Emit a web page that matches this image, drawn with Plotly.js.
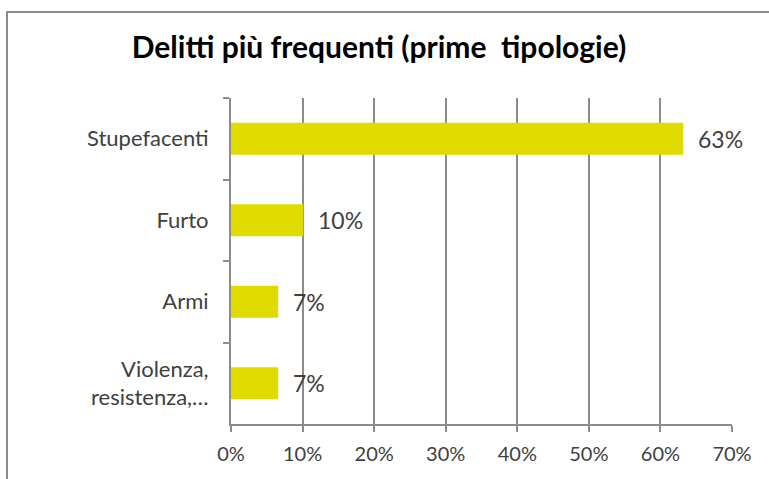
<!DOCTYPE html>
<html><head><meta charset="utf-8">
<script src="https://cdn.plot.ly/plotly-3.0.1.min.js"></script>
<style>
html,body{margin:0;padding:0;background:#fff;}
#wrap{position:relative;width:769px;height:479px;overflow:hidden;}
#chart{position:absolute;left:0;top:0;width:769px;height:479px;}
#frame{position:absolute;left:6px;top:11px;width:800px;height:500px;border:2px solid #8c8c8c;box-sizing:border-box;pointer-events:none;}
</style></head>
<body><div id="wrap"><div id="chart"></div><div id="frame"></div></div>
<script>
const categories = ["Stupefacenti", "Furto", "Armi", "Violenza,<br>resistenza,…"];
const values = [0.632, 0.101, 0.066, 0.066];
const dataLabels = ["63%", "10%", "7%", "7%"];
const tickVals = [0, 0.1, 0.2, 0.3, 0.4, 0.5, 0.6, 0.7];

const font = "Lato, 'Open Sans', sans-serif";
const trace = {
  type: "bar", orientation: "h",
  x: values, y: categories,
  marker: {color: "#e0dc00"},
  width: 0.39,
  hoverinfo: "skip"
};
const annotations = values.map((v, i) => ({
  x: v, y: categories[i], xref: "x", yref: "y",
  text: dataLabels[i],
  showarrow: false, xanchor: "left", xshift: 13,
  font: {family: font, size: 23, color: "#404040"}
}));
const layout = {
  width: 769, height: 479,
  margin: {l: 231, r: 37, t: 98, b: 55},
  paper_bgcolor: "#fff", plot_bgcolor: "#fff",
  showlegend: false,
  title: {text: "<b>Delitti più frequenti (prime  tipologie)</b>", x: 379/769, xanchor: "center",
          yref: "container", y: 1 - 47/479, yanchor: "middle",
          font: {family: font, size: 30, color: "#000"}},
  xaxis: {range: [0, 0.7], tickvals: tickVals, tickformat: ".0%",
          showgrid: true, gridcolor: "#8c8c8c", gridwidth: 2,
          showline: true, linecolor: "#8c8c8c", linewidth: 2,
          ticks: "outside", ticklen: 6, tickcolor: "#8c8c8c", tickwidth: 2,
          ticklabelstandoff: 5, zeroline: false,
          tickfont: {family: font, size: 20, color: "#404040"}, fixedrange: true},
  yaxis: {autorange: "reversed", showline: true, linecolor: "#8c8c8c", linewidth: 2,
          ticks: "outside", tickson: "boundaries", ticklen: 6, tickcolor: "#8c8c8c", tickwidth: 2,
          ticklabelstandoff: 16, showgrid: false,
          tickfont: {family: font, size: 22, color: "#404040"}, fixedrange: true},
  annotations: annotations
};
Plotly.newPlot("chart", [trace], layout, {displayModeBar: false, staticPlot: true});
</script></body></html>
